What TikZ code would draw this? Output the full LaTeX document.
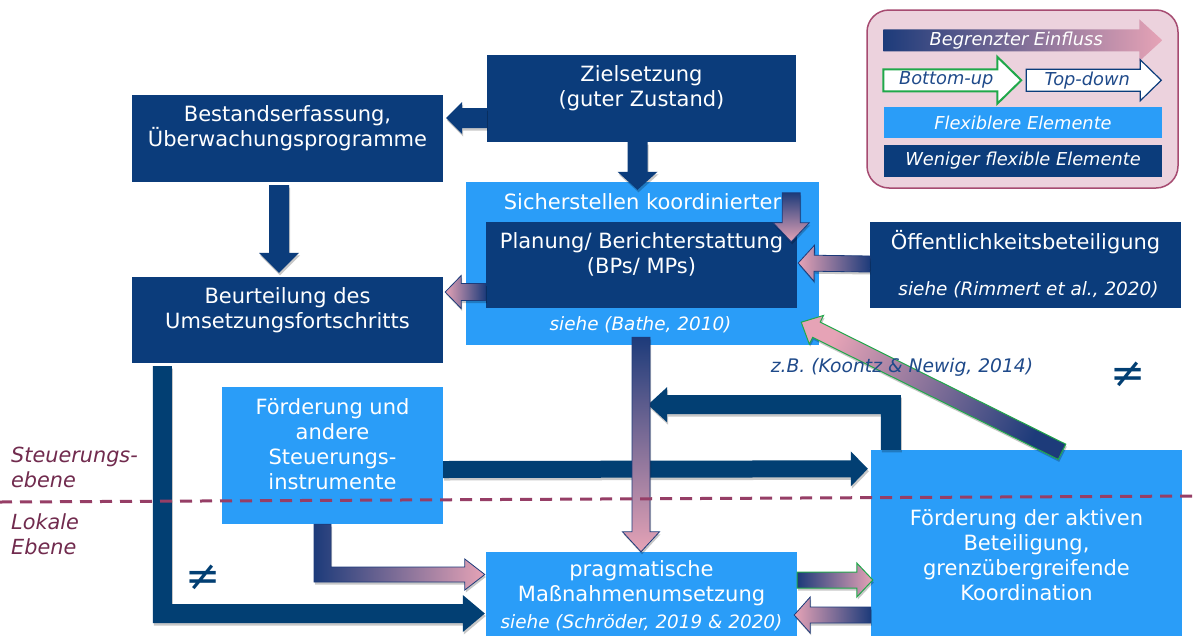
\documentclass[tikz,border=0pt]{standalone}
\usepackage{fontspec}
\setmainfont{DejaVu Sans}
\usetikzlibrary{calc,shadows}

\definecolor{boxnavy}{HTML}{0B3C7B}
\definecolor{arrownavy}{HTML}{023F73}
\definecolor{lightblue}{HTML}{2A9DF8}
\definecolor{rosa}{HTML}{E6A3B6}
\definecolor{gradnavy}{HTML}{1D3B7A}
\definecolor{legendfill}{HTML}{ECD2DD}
\definecolor{legendline}{HTML}{A64B71}
\definecolor{levelred}{HTML}{963E66}
\definecolor{leveltext}{HTML}{712B4E}
\definecolor{greenline}{HTML}{20A84A}
\definecolor{citeblue}{HTML}{1F4A8A}

% block arrow: [style]{start}{tip}{half shaft width}{half head width}{head length}
\newcommand{\fatarrow}[6][]{%
  \coordinate (fa-s) at #2;
  \coordinate (fa-e) at #3;
  \coordinate (fa-h) at ($(fa-e)!#6!(fa-s)$);
  \path[#1] ($(fa-s)!#4!90:(fa-e)$) -- ($(fa-h)!#4!-90:(fa-s)$)
    -- ($(fa-h)!#5!-90:(fa-s)$) -- (fa-e) -- ($(fa-h)!#5!90:(fa-s)$)
    -- ($(fa-h)!#4!90:(fa-s)$) -- ($(fa-s)!#4!-90:(fa-e)$) -- cycle;
}

\begin{document}
\begin{tikzpicture}[x=1pt,y=-1pt,
  navybox/.style={rectangle, fill=boxnavy, inner sep=0pt},
  flexbox/.style={rectangle, fill=lightblue, inner sep=0pt},
  boxtext/.style={text=white, align=center, inner sep=0pt, font=\fontsize{21}{25}\selectfont},
  citetext/.style={text=white, inner sep=0pt, font=\fontsize{18.4}{22}\selectfont\itshape},
  leveltxt/.style={text=leveltext, align=left, anchor=west, inner sep=0pt, font=\fontsize{20.8}{25}\selectfont\itshape},
  legtext/.style={inner sep=0pt, font=\fontsize{17.8}{20}\selectfont\itshape},
  neqsign/.style={text=arrownavy, inner sep=0pt, font=\fontsize{42}{42}\selectfont},
  softshadow/.style={drop shadow={shadow xshift=1pt, shadow yshift=-2.5pt, opacity=0.22, fill=black}},
  solidarrow/.style={fill=arrownavy, softshadow},
  boxarrow/.style={fill=boxnavy, softshadow},
  gradline/.style={draw=gradnavy, line width=0.8pt, softshadow},
  greenedge/.style={draw=greenline, line width=1pt, softshadow},
  tipleft/.style={left color=rosa, right color=gradnavy},
  tipright/.style={left color=gradnavy, right color=rosa},
  tipdown/.style={top color=gradnavy, bottom color=rosa},
  levelline/.style={levelred, line width=3pt},
]
\clip (0,0) rectangle (1198,635);
\fill[white] (0,0) rectangle (1198,635);

% ---------- boxes ----------
\node[navybox, minimum width=309pt, minimum height=87pt] (zs) at (641.5,98.5) {};
\node[navybox, minimum width=311pt, minimum height=87pt] (bs) at (287.5,138.5) {};
\node[navybox, minimum width=311pt, minimum height=86pt] (bu) at (287.5,320) {};
\node[flexbox, minimum width=353pt, minimum height=163pt] (sk) at (642.5,263.5) {};
\node[navybox, minimum width=311pt, minimum height=86pt] (pl) at (641.5,265) {};
\node[navybox, minimum width=311pt, minimum height=86pt] (of) at (1025.5,265) {};
\node[flexbox, minimum width=221pt, minimum height=137pt] (fd) at (332.5,455.5) {};
\node[flexbox, minimum width=311pt, minimum height=190pt] (fa) at (1026.5,545) {};
\node[flexbox, minimum width=311pt, minimum height=88pt] (pm) at (641.5,596) {};

% ---------- box texts ----------
\node[boxtext] (zs-t) at ($(zs.north)+(0,33)$) {Zielsetzung\\(guter Zustand)};
\node[boxtext] (bs-t) at ($(bs.north)+(0,33)$) {Bestandserfassung,\\Überwachungsprogramme};
\node[boxtext] (bu-t) at ($(bu.north)+(0,33)$) {Beurteilung des\\Umsetzungsfortschritts};
\node[boxtext] (sk-t) at ($(sk.north)+(0,20)$) {Sicherstellen koordinierter};
\node[boxtext] (pl-t) at ($(pl.north)+(0,33)$) {Planung/ Berichterstattung\\(BPs/ MPs)};
\node[citetext] (sk-c) at ($(sk.south)+(-2,-20)$) {siehe (Bathe, 2010)};
\node[boxtext] (of-t) at ($(of.north)+(0,20)$) {Öffentlichkeitsbeteiligung};
\node[citetext] (of-c) at ($(of.north)+(3,68)$) {siehe (Rimmert et al., 2020)};
\node[boxtext] (fd-t) at ($(fd.north)+(0,57)$) {Förderung und\\andere\\Steuerungs-\\instrumente};
\node[boxtext] (fa-t) at ($(fa.north)+(0,105)$) {Förderung der aktiven\\Beteiligung,\\grenzübergreifende\\Koordination};
\node[boxtext] (pm-t) at ($(pm.north)+(0,31.5)$) {pragmatische\\Maßnahmenumsetzung};
\node[citetext] (pm-c) at ($(pm.north)+(0,71)$) {siehe (Schröder, 2019 \& 2020)};

% ---------- solid arrows ----------
\fatarrow[boxarrow]{($(zs.west)+(0,19.5)$)}{($(bs.east)+(3,-20.5)$)}{10pt}{16pt}{16pt}
\fatarrow[boxarrow]{($(zs.south)+(-4,0)$)}{($(sk.north)+(-5,8)$)}{10pt}{20pt}{18pt}
\fatarrow[boxarrow]{($(bs.south)+(-8.5,3)$)}{($(bu.north)+(-8.5,-4)$)}{10pt}{20pt}{20pt}
\fatarrow[solidarrow]{($(fd.east)+(0,14)$)}{($(fa.north west)+(-3,19)$)}{8.5pt}{17.5pt}{17pt}

% Beurteilung -> Maßnahmenumsetzung (L-shaped)
\coordinate (bl-top) at ($(bu.south west)+(21,3)$);
\coordinate (bl-tip) at ($(pm.west)+(-1,17.5)$);
\path[solidarrow] (bl-top) -- ($(bl-top |- bl-tip)+(0,9.5)$) -- ($(bl-tip)+(-22,9.5)$)
  -- ($(bl-tip)+(-22,18.5)$) -- (bl-tip) -- ($(bl-tip)+(-22,-18.5)$)
  -- ($(bl-tip)+(-22,-9.5)$) -- ($(bl-top |- bl-tip)+(19,-9.5)$)
  -- ($(bl-top)+(19,0)$) -- cycle;

% feedback from the active participation box
\coordinate (fb-s) at ($(fa.north west)+(10,0)$);
\coordinate (fb-tip) at ($(sk.south)+(5.5,59.5)$);
\path[solidarrow] (fb-s) -- ($(fb-s |- fb-tip)+(0,9.5)$) -- ($(fb-tip)+(19,9.5)$)
  -- ($(fb-tip)+(19,17.5)$) -- (fb-tip) -- ($(fb-tip)+(19,-17.5)$)
  -- ($(fb-tip)+(19,-9.5)$) -- ($(fb-s |- fb-tip)+(20,-9.5)$)
  -- ($(fb-s)+(20,0)$) -- cycle;

% ---------- limited-influence (gradient) arrows ----------
\fatarrow[tipleft, gradline]{($(pl.west)+(0,27)$)}{($(bu.east)+(2,-28)$)}{8.5pt}{16.5pt}{16pt}
\fatarrow[tipdown, gradline]{($(sk.north east)+(-28,11)$)}{($(pl.north east)+(-6,20)$)}{9pt}{18pt}{19pt}
\fatarrow[tipleft, gradline]{($(of.west)+(0,-1)$)}{($(pl.east)+(1,-2)$)}{8pt}{18pt}{16pt}
\fatarrow[tipdown, gradline]{($(sk.south)+(-1.5,-8)$)}{($(pm.north)+(-0.5,0)$)}{9pt}{18.5pt}{20pt}

% Förderung -> Maßnahmenumsetzung (L-shaped, gradient)
\coordinate (gl-top) at ($(fd.south)+(-18.5,0)$);
\coordinate (gl-tip) at ($(pm.west)+(-1,-21.5)$);
\path[tipright, gradline] (gl-top) -- ($(gl-top |- gl-tip)+(0,7.5)$) -- ($(gl-tip)+(-20,7.5)$)
  -- ($(gl-tip)+(-20,15.5)$) -- (gl-tip) -- ($(gl-tip)+(-20,-15.5)$)
  -- ($(gl-tip)+(-20,-7.5)$) -- ($(gl-top |- gl-tip)+(17,-7.5)$)
  -- ($(gl-top)+(17,0)$) -- cycle;

% between Maßnahmenumsetzung and active participation
\fatarrow[tipright, greenedge]{($(pm.east)+(0,-16)$)}{($(fa.west)+(2,35)$)}{8pt}{17pt}{16pt}
\fatarrow[tipleft, gradline]{($(fa.west)+(0,70)$)}{($(pm.east)+(-3,19)$)}{8pt}{18pt}{16pt}

% bottom-up influence on planning
\fatarrow[top color=rosa, bottom color=gradnavy, shading angle=63.5, greenedge]{($(fa.north)+(35.5,2)$)}{($(sk.south east)+(-18,-23)$)}{8.5pt}{16pt}{17pt}

% ---------- annotations ----------
\node[citetext, text=citeblue, font=\fontsize{18.7}{22}\selectfont\itshape] (kn) at (902,367) {z.B. (Koontz \& Newig, 2014)};
\node[neqsign] (ne1) at (1128,375) {≠};
\node[neqsign] (ne2) at (203,578) {≠};

% level separation: dashes 12 long, 8 apart, falling 6 units over the width
\foreach \x in {0,20,...,1180}
  \draw[levelline] (\x,{502-0.005*\x}) -- ({\x+12},{502-0.005*(\x+12)});
\node[leveltxt] (lv1) at (11,467.5) {Steuerungs-\\ebene};
\node[leveltxt] (lv2) at (11,534.5) {Lokale\\Ebene};

% ---------- legend ----------
\node[draw=legendline, fill=legendfill, rounded corners=22pt, line width=1.5pt,
      minimum width=311pt, minimum height=178pt, inner sep=0pt] (leg) at (1022.5,99) {};
\fatarrow[tipright]{($(leg.north west)+(17,31)$)}{($(leg.north west)+(296,31)$)}{11pt}{21pt}{23pt}
\fatarrow[fill=white, draw=greenline, line width=2pt]{($(leg.north west)+(17,71)$)}{($(leg.north west)+(155,71)$)}{11pt}{23.5pt}{24pt}
\fatarrow[fill=white, draw=boxnavy, line width=1.2pt]{($(leg.north west)+(160,71)$)}{($(leg.north west)+(295,71)$)}{11pt}{20.5pt}{21pt}
\node[legtext, text=white] (leg-a) at ($(leg.north west)+(150,31)$) {Begrenzter Einfluss};
\node[legtext, text=citeblue] (leg-b) at ($(leg.north west)+(80,71)$) {Bottom-up};
\node[legtext, text=citeblue] (leg-c) at ($(leg.north west)+(221,71)$) {Top-down};
\node[flexbox, minimum width=278pt, minimum height=31pt] (leg-f) at (1023,122.5) {};
\node[legtext, text=white] (leg-ft) at (leg-f) {Flexiblere Elemente};
\node[navybox, minimum width=278pt, minimum height=32pt] (leg-w) at (1023,161) {};
\node[legtext, text=white] (leg-wt) at (leg-w) {Weniger flexible Elemente};
\end{tikzpicture}
\end{document}
